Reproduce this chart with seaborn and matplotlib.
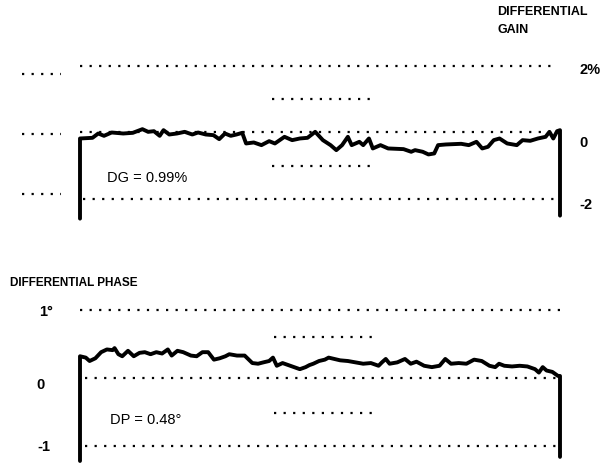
import numpy as np
import pandas as pd
import matplotlib
matplotlib.use("Agg")
import matplotlib.pyplot as plt
import seaborn as sns

# ---- data (sweep position in % of line, value) ----
GAIN_X = [0, 0, 2.6, 3.8, 5.0, 6.6, 9.0, 11.0, 13.0, 14.2, 15.4, 16.6, 17.4, 18.6, 20.2,
          21.8, 23.4, 24.6, 26.2, 27.8, 29.0, 30.2, 31.4, 32.6, 33.8, 34.6, 36.2, 37.8,
          39.4, 40.6, 42.6, 44.2, 45.8, 47.4, 49.0, 50.6, 52.2, 53.4, 54.6, 55.8, 56.6,
          58.2, 59.0, 60.2, 61.0, 62.6, 64.2, 67.4, 69.0, 69.8, 71.4, 72.6, 73.8, 74.6,
          76.2, 79.4, 81.0, 82.6, 83.8, 85.0, 86.2, 87.4, 89.0, 91.0, 92.2, 93.8, 95.4,
          97.0, 97.8, 98.6, 99.4, 100, 100]
GAIN_Y = [-2.59, -0.18, -0.16, -0.03, -0.10, 0.00, -0.03, -0.01, 0.10, 0.02, 0.04, -0.10,
          0.07, -0.06, -0.03, 0.02, -0.06, 0.00, -0.06, -0.08, -0.20, -0.03, -0.10, -0.06,
          -0.01, -0.33, -0.30, -0.38, -0.26, -0.33, -0.13, -0.23, -0.18, -0.16, 0.02,
          -0.23, -0.38, -0.53, -0.38, -0.13, -0.38, -0.28, -0.38, -0.18, -0.48, -0.38,
          -0.48, -0.50, -0.58, -0.53, -0.58, -0.66, -0.63, -0.38, -0.36, -0.34, -0.38,
          -0.28, -0.48, -0.43, -0.23, -0.18, -0.33, -0.38, -0.23, -0.25, -0.18, -0.13,
          0.02, -0.18, 0.04, 0.07, -2.50]

PHASE_X = [0, 0, 1.2, 2.0, 3.2, 4.4, 5.6, 6.8, 7.2, 8.0, 8.8, 10.0, 11.2, 12.4, 13.5, 14.7,
           15.9, 17.1, 18.3, 19.1, 20.3, 21.5, 23.1, 24.3, 25.5, 26.7, 27.9, 29.1, 30.3,
           31.1, 32.7, 34.3, 35.9, 37.1, 38.2, 39.4, 40.2, 41.0, 42.2, 43.4, 44.6, 45.8,
           47.0, 47.8, 48.6, 49.8, 51.0, 51.8, 53.0, 54.2, 55.8, 57.4, 59.0, 60.6, 62.2,
           62.9, 63.7, 64.5, 66.1, 67.7, 68.9, 70.1, 71.7, 73.3, 74.9, 76.1, 77.3, 78.9,
           80.5, 82.1, 83.7, 85.3, 86.5, 87.3, 88.4, 90.0, 91.6, 93.2, 94.8, 95.6, 96.4,
           97.2, 98.4, 99.6, 100, 100]
PHASE_Y = [-1.22, 0.32, 0.30, 0.25, 0.29, 0.38, 0.42, 0.41, 0.44, 0.35, 0.32, 0.40, 0.32,
           0.37, 0.38, 0.35, 0.38, 0.36, 0.42, 0.33, 0.40, 0.38, 0.33, 0.32, 0.38, 0.38,
           0.27, 0.29, 0.32, 0.35, 0.33, 0.33, 0.22, 0.21, 0.23, 0.25, 0.30, 0.18, 0.22,
           0.19, 0.16, 0.13, 0.16, 0.19, 0.21, 0.25, 0.27, 0.30, 0.28, 0.26, 0.25, 0.23,
           0.21, 0.22, 0.18, 0.23, 0.28, 0.21, 0.23, 0.28, 0.21, 0.24, 0.18, 0.16, 0.18,
           0.28, 0.21, 0.22, 0.21, 0.27, 0.25, 0.18, 0.16, 0.21, 0.18, 0.17, 0.18, 0.17,
           0.13, 0.08, 0.16, 0.11, 0.09, 0.03, 0.03, -1.16]

GAIN_LEVELS = [2, 0, -2]
GAIN_LABELS = ["2%", "0", "-2"]
PHASE_LEVELS = [1, 0, -1]
PHASE_LABELS = ["1°", "0", "-1"]
GAIN_TEXT = "DG = 0.99%"
PHASE_TEXT = "DP = 0.48°"

sns.set_theme(style="white")
FONT = ["Liberation Sans", "DejaVu Sans"]
plt.rcParams["font.family"] = FONT
plt.rcParams["text.color"] = "black"

W, H = 603, 464
fig = plt.figure(figsize=(W / 100, H / 100), dpi=100)
fig.patch.set_facecolor("white")

def px_axes(x0, x1, y0, y1):
    return fig.add_axes([x0 / W, 1 - y1 / H, (x1 - x0) / W, (y1 - y0) / H])

DOT = dict(color="black", lw=1.6, linestyle=(0, (1, 3.3)), solid_capstyle="butt",
           dash_capstyle="butt")
TRACE_KW = dict(color="black", lw=2.8, estimator=None, sort=False, legend=False)

# ---------------- top: differential gain ----------------
ax1 = px_axes(80, 560, 55, 225)
ax1.set_xlim(0, 100)
ax1.set_ylim(-2.752, 2.361)
ax1.set_axis_off()
t1 = ax1.get_yaxis_transform()
for lvl, (a, b) in zip(GAIN_LEVELS, [(0.0, 0.992), (0.0, 1.0), (0.006, 0.992)]):
    ax1.plot([a, b], [lvl, lvl], transform=t1, clip_on=False, **DOT)
for lvl in [1, -1]:
    ax1.plot([0.40, 0.604], [lvl, lvl], transform=t1, clip_on=False, **DOT)
for lvl in [1.76, -0.05, -1.85]:
    ax1.plot([-0.121, -0.040], [lvl, lvl], transform=t1, clip_on=False, **DOT)
sns.lineplot(x=GAIN_X, y=GAIN_Y, ax=ax1, **TRACE_KW)
ax1.lines[-1].set_clip_on(False)
for lvl, lab, dy in zip(GAIN_LEVELS, GAIN_LABELS, [-0.1, -0.29, -0.15]):
    ax1.text(1.040, lvl + dy, lab, transform=t1, ha="left", va="center",
             fontsize=10.5, fontweight="bold", color="black")
ax1.text(0.056, -1.34, GAIN_TEXT, transform=t1, ha="left", va="center",
         fontsize=10.5, color="black")
fig.text(497 / W, 1 - 12 / H, "DIFFERENTIAL", ha="left", va="center",
         fontsize=9, fontweight="bold", color="black")
fig.text(497 / W, 1 - 30 / H, "GAIN", ha="left", va="center",
         fontsize=9, fontweight="bold", color="black")

# ---------------- bottom: differential phase ----------------
ax2 = px_axes(80, 560, 300, 464)
ax2.set_xlim(0, 100)
ax2.set_ylim(-1.25, 1.162)
ax2.set_axis_off()
t2 = ax2.get_yaxis_transform()
for lvl, (a, b) in zip(PHASE_LEVELS, [(0.0, 1.004), (0.01, 1.0), (0.01, 1.0)]):
    ax2.plot([a, b], [lvl, lvl], transform=t2, clip_on=False, **DOT)
for lvl in [0.6, -0.51]:
    ax2.plot([0.404, 0.6125], [lvl, lvl], transform=t2, clip_on=False, **DOT)
sns.lineplot(x=PHASE_X, y=PHASE_Y, ax=ax2, **TRACE_KW)
ax2.lines[-1].set_clip_on(False)
for lvl, lab, xr, dy in zip(PHASE_LEVELS, PHASE_LABELS, [-0.056, -0.073, -0.0625],
                            [-0.015, -0.09, 0.0]):
    ax2.text(xr, lvl + dy, lab, transform=t2, ha="right", va="center",
             fontsize=10.5, fontweight="bold", color="black")
ax2.text(0.0625, -0.6, PHASE_TEXT, transform=t2, ha="left", va="center",
         fontsize=10.5, color="black")
fig.text(10 / W, 1 - 283 / H, "DIFFERENTIAL PHASE", ha="left", va="center",
         fontsize=8.5, fontweight="bold", color="black")

fig.savefig("out.png", dpi=100, facecolor="white")
